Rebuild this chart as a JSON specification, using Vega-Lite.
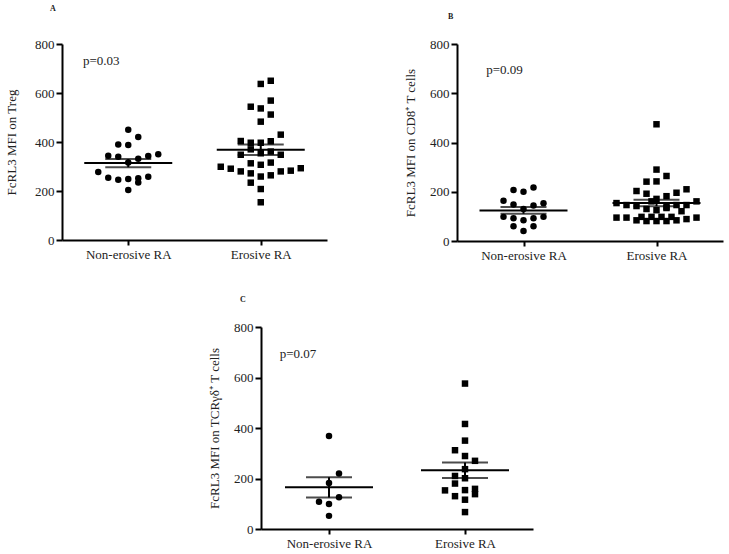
{
  "$schema": "https://vega.github.io/schema/vega-lite/v6.json",
  "padding": 5,
  "background": "white",
  "config": {
    "view": {"stroke": null},
    "font": "Liberation Serif",
    "axis": {"domainColor": "black", "domainWidth": 2, "tickColor": "black", "tickWidth": 2, "tickSize": 6, "labelFont": "Liberation Serif", "labelFontSize": 13, "labelColor": "#222", "titleFont": "Liberation Serif", "titleFontSize": 13, "titleFontWeight": "normal", "titleColor": "#222", "grid": false},
    "title": {"font": "Liberation Serif", "fontSize": 8, "fontWeight": "bold", "anchor": "start", "frame": "group", "color": "#222"}
  },
  "datasets": {
    "pts": [
      {"panel": "A", "group": "Non-erosive RA", "col": 0, "value": 450},
      {"panel": "A", "group": "Non-erosive RA", "col": 1, "value": 420},
      {"panel": "A", "group": "Non-erosive RA", "col": -1, "value": 390},
      {"panel": "A", "group": "Non-erosive RA", "col": 0, "value": 388},
      {"panel": "A", "group": "Non-erosive RA", "col": -2, "value": 344},
      {"panel": "A", "group": "Non-erosive RA", "col": -1, "value": 340},
      {"panel": "A", "group": "Non-erosive RA", "col": 1, "value": 332},
      {"panel": "A", "group": "Non-erosive RA", "col": 2, "value": 343},
      {"panel": "A", "group": "Non-erosive RA", "col": 3, "value": 350},
      {"panel": "A", "group": "Non-erosive RA", "col": 0, "value": 316},
      {"panel": "A", "group": "Non-erosive RA", "col": -3, "value": 278},
      {"panel": "A", "group": "Non-erosive RA", "col": -2, "value": 254},
      {"panel": "A", "group": "Non-erosive RA", "col": -1, "value": 246},
      {"panel": "A", "group": "Non-erosive RA", "col": 0, "value": 249},
      {"panel": "A", "group": "Non-erosive RA", "col": 1, "value": 252},
      {"panel": "A", "group": "Non-erosive RA", "col": 1, "value": 235},
      {"panel": "A", "group": "Non-erosive RA", "col": 2, "value": 258},
      {"panel": "A", "group": "Non-erosive RA", "col": 0, "value": 204},
      {"panel": "A", "group": "Erosive RA", "col": 0, "value": 637},
      {"panel": "A", "group": "Erosive RA", "col": 1, "value": 650},
      {"panel": "A", "group": "Erosive RA", "col": 1, "value": 569},
      {"panel": "A", "group": "Erosive RA", "col": -1, "value": 544},
      {"panel": "A", "group": "Erosive RA", "col": 0, "value": 537},
      {"panel": "A", "group": "Erosive RA", "col": 1, "value": 512},
      {"panel": "A", "group": "Erosive RA", "col": 0, "value": 483},
      {"panel": "A", "group": "Erosive RA", "col": 2, "value": 430},
      {"panel": "A", "group": "Erosive RA", "col": -2, "value": 404},
      {"panel": "A", "group": "Erosive RA", "col": -1, "value": 397},
      {"panel": "A", "group": "Erosive RA", "col": 0, "value": 397},
      {"panel": "A", "group": "Erosive RA", "col": 1, "value": 403},
      {"panel": "A", "group": "Erosive RA", "col": -1, "value": 370},
      {"panel": "A", "group": "Erosive RA", "col": -2, "value": 348},
      {"panel": "A", "group": "Erosive RA", "col": 0, "value": 354},
      {"panel": "A", "group": "Erosive RA", "col": 1, "value": 361},
      {"panel": "A", "group": "Erosive RA", "col": 2, "value": 348},
      {"panel": "A", "group": "Erosive RA", "col": -4, "value": 299},
      {"panel": "A", "group": "Erosive RA", "col": -3, "value": 291},
      {"panel": "A", "group": "Erosive RA", "col": -2, "value": 280},
      {"panel": "A", "group": "Erosive RA", "col": -1, "value": 313},
      {"panel": "A", "group": "Erosive RA", "col": 0, "value": 307},
      {"panel": "A", "group": "Erosive RA", "col": 1, "value": 316},
      {"panel": "A", "group": "Erosive RA", "col": -1, "value": 272},
      {"panel": "A", "group": "Erosive RA", "col": 0, "value": 259},
      {"panel": "A", "group": "Erosive RA", "col": 1, "value": 264},
      {"panel": "A", "group": "Erosive RA", "col": 2, "value": 280},
      {"panel": "A", "group": "Erosive RA", "col": 3, "value": 283},
      {"panel": "A", "group": "Erosive RA", "col": 4, "value": 293},
      {"panel": "A", "group": "Erosive RA", "col": -1, "value": 234},
      {"panel": "A", "group": "Erosive RA", "col": 0, "value": 208},
      {"panel": "A", "group": "Erosive RA", "col": 0, "value": 154},
      {"panel": "B", "group": "Non-erosive RA", "col": -1, "value": 207},
      {"panel": "B", "group": "Non-erosive RA", "col": 0, "value": 200},
      {"panel": "B", "group": "Non-erosive RA", "col": 1, "value": 217},
      {"panel": "B", "group": "Non-erosive RA", "col": -2, "value": 163},
      {"panel": "B", "group": "Non-erosive RA", "col": -1, "value": 148},
      {"panel": "B", "group": "Non-erosive RA", "col": 1, "value": 144},
      {"panel": "B", "group": "Non-erosive RA", "col": 2, "value": 153},
      {"panel": "B", "group": "Non-erosive RA", "col": 0, "value": 130},
      {"panel": "B", "group": "Non-erosive RA", "col": -2, "value": 98},
      {"panel": "B", "group": "Non-erosive RA", "col": -1, "value": 92},
      {"panel": "B", "group": "Non-erosive RA", "col": 0, "value": 84},
      {"panel": "B", "group": "Non-erosive RA", "col": 1, "value": 92},
      {"panel": "B", "group": "Non-erosive RA", "col": 2, "value": 98},
      {"panel": "B", "group": "Non-erosive RA", "col": -1, "value": 60},
      {"panel": "B", "group": "Non-erosive RA", "col": 1, "value": 60},
      {"panel": "B", "group": "Non-erosive RA", "col": 0, "value": 41},
      {"panel": "B", "group": "Erosive RA", "col": 0, "value": 474},
      {"panel": "B", "group": "Erosive RA", "col": 0, "value": 290},
      {"panel": "B", "group": "Erosive RA", "col": 1, "value": 264},
      {"panel": "B", "group": "Erosive RA", "col": -1, "value": 241},
      {"panel": "B", "group": "Erosive RA", "col": 0, "value": 242},
      {"panel": "B", "group": "Erosive RA", "col": -2, "value": 203},
      {"panel": "B", "group": "Erosive RA", "col": -1, "value": 192},
      {"panel": "B", "group": "Erosive RA", "col": 2, "value": 196},
      {"panel": "B", "group": "Erosive RA", "col": 3, "value": 210},
      {"panel": "B", "group": "Erosive RA", "col": 1, "value": 182},
      {"panel": "B", "group": "Erosive RA", "col": 0, "value": 171},
      {"panel": "B", "group": "Erosive RA", "col": -0.5, "value": 161},
      {"panel": "B", "group": "Erosive RA", "col": -4, "value": 154},
      {"panel": "B", "group": "Erosive RA", "col": -3, "value": 146},
      {"panel": "B", "group": "Erosive RA", "col": -2, "value": 142},
      {"panel": "B", "group": "Erosive RA", "col": 1, "value": 138},
      {"panel": "B", "group": "Erosive RA", "col": 2, "value": 146},
      {"panel": "B", "group": "Erosive RA", "col": 3, "value": 146},
      {"panel": "B", "group": "Erosive RA", "col": 4, "value": 161},
      {"panel": "B", "group": "Erosive RA", "col": -1, "value": 130},
      {"panel": "B", "group": "Erosive RA", "col": 0, "value": 125},
      {"panel": "B", "group": "Erosive RA", "col": 1, "value": 134},
      {"panel": "B", "group": "Erosive RA", "col": 2.5, "value": 121},
      {"panel": "B", "group": "Erosive RA", "col": -4, "value": 95},
      {"panel": "B", "group": "Erosive RA", "col": -3, "value": 95},
      {"panel": "B", "group": "Erosive RA", "col": -1.5, "value": 98},
      {"panel": "B", "group": "Erosive RA", "col": -0.5, "value": 98},
      {"panel": "B", "group": "Erosive RA", "col": 0.5, "value": 98},
      {"panel": "B", "group": "Erosive RA", "col": 1.5, "value": 98},
      {"panel": "B", "group": "Erosive RA", "col": 3, "value": 89},
      {"panel": "B", "group": "Erosive RA", "col": 4, "value": 95},
      {"panel": "B", "group": "Erosive RA", "col": -2, "value": 84},
      {"panel": "B", "group": "Erosive RA", "col": -1, "value": 81},
      {"panel": "B", "group": "Erosive RA", "col": 0, "value": 81},
      {"panel": "B", "group": "Erosive RA", "col": 1, "value": 81},
      {"panel": "B", "group": "Erosive RA", "col": 2, "value": 84},
      {"panel": "C", "group": "Non-erosive RA", "col": 0, "value": 368},
      {"panel": "C", "group": "Non-erosive RA", "col": 1, "value": 220},
      {"panel": "C", "group": "Non-erosive RA", "col": 0, "value": 182},
      {"panel": "C", "group": "Non-erosive RA", "col": 1, "value": 126},
      {"panel": "C", "group": "Non-erosive RA", "col": -1, "value": 108},
      {"panel": "C", "group": "Non-erosive RA", "col": 0, "value": 99},
      {"panel": "C", "group": "Non-erosive RA", "col": 0, "value": 52},
      {"panel": "C", "group": "Erosive RA", "col": 0, "value": 576},
      {"panel": "C", "group": "Erosive RA", "col": 0, "value": 416},
      {"panel": "C", "group": "Erosive RA", "col": 0, "value": 350},
      {"panel": "C", "group": "Erosive RA", "col": -1, "value": 312},
      {"panel": "C", "group": "Erosive RA", "col": 0, "value": 289},
      {"panel": "C", "group": "Erosive RA", "col": 1, "value": 270},
      {"panel": "C", "group": "Erosive RA", "col": 0, "value": 237},
      {"panel": "C", "group": "Erosive RA", "col": -1, "value": 210},
      {"panel": "C", "group": "Erosive RA", "col": 0, "value": 201},
      {"panel": "C", "group": "Erosive RA", "col": -1, "value": 180},
      {"panel": "C", "group": "Erosive RA", "col": 1, "value": 159},
      {"panel": "C", "group": "Erosive RA", "col": 1, "value": 138},
      {"panel": "C", "group": "Erosive RA", "col": -2, "value": 153},
      {"panel": "C", "group": "Erosive RA", "col": 0, "value": 154},
      {"panel": "C", "group": "Erosive RA", "col": -1, "value": 130},
      {"panel": "C", "group": "Erosive RA", "col": 0, "value": 116},
      {"panel": "C", "group": "Erosive RA", "col": 0, "value": 67}
    ],
    "notes": [
      {"panel": "A", "value": 730, "label": "p=0.03"},
      {"panel": "B", "value": 694, "label": "p=0.09"},
      {"panel": "C", "value": 695, "label": "p=0.07"}
    ],
    "blank": [{"k": 1}]
  },
  "spacing": 34,
  "vconcat": [
    {
      "spacing": 77,
      "hconcat": [
        {
          "width": 265, "height": 196,
          "title": {"text": "A", "dx": -12, "offset": 25},
          "encoding": {"x": {"field": "group", "type": "nominal", "sort": ["Non-erosive RA", "Erosive RA"], "scale": {"type": "point", "padding": 0.5}, "axis": {"title": null, "labelAngle": 0, "labelPadding": 3, "tickSize": 5}}},
          "layer": [
            {
              "data": {"name": "pts"}, "transform": [{"filter": "datum.panel === 'A'"}],
              "mark": {"type": "point", "filled": true, "color": "black", "opacity": 1, "size": 42},
              "encoding": {
                "y": {"field": "value", "type": "quantitative", "title": "FcRL3 MFI on Treg", "scale": {"domain": [0, 800], "nice": false}, "axis": {"values": [0, 200, 400, 600, 800], "titlePadding": 16}},
                "xOffset": {"field": "col", "type": "quantitative", "scale": {"domain": [-1, 1], "range": [-10, 10]}},
                "shape": {"field": "group", "type": "nominal", "scale": {"domain": ["Non-erosive RA", "Erosive RA"], "range": ["circle", "square"]}, "legend": null}
              }
            },
            {
              "data": {"name": "pts"}, "transform": [{"filter": "datum.panel === 'A'"}],
              "mark": {"type": "tick", "color": "black", "size": 88, "thickness": 2},
              "encoding": {"y": {"aggregate": "mean", "field": "value", "type": "quantitative", "title": "FcRL3 MFI on Treg"}}
            },
            {
              "data": {"name": "pts"}, "transform": [{"filter": "datum.panel === 'A'"}],
              "mark": {"type": "errorbar", "extent": "stderr", "color": "black", "thickness": 2, "ticks": {"size": 46}},
              "encoding": {"y": {"field": "value", "type": "quantitative", "title": "FcRL3 MFI on Treg"}}
            },
            {
              "data": {"name": "notes"}, "transform": [{"filter": "datum.panel === 'A'"}],
              "mark": {"type": "text", "font": "Liberation Serif", "fontSize": 13, "color": "#222", "dx": -27, "align": "center", "baseline": "middle"},
              "encoding": {"x": {"datum": "Non-erosive RA"}, "y": {"field": "value", "type": "quantitative", "title": "FcRL3 MFI on Treg"}, "text": {"field": "label"}}
            }
          ]
        },
        {
          "width": 266, "height": 197,
          "title": {"text": "B", "dx": -9, "offset": 17},
          "encoding": {"x": {"field": "group", "type": "nominal", "sort": ["Non-erosive RA", "Erosive RA"], "scale": {"type": "point", "padding": 0.5}, "axis": {"title": null, "labelAngle": 0, "labelPadding": 3, "tickSize": 5}}},
          "layer": [
            {
              "data": {"name": "pts"}, "transform": [{"filter": "datum.panel === 'B'"}],
              "mark": {"type": "point", "filled": true, "color": "black", "opacity": 1, "size": 42},
              "encoding": {
                "y": {"field": "value", "type": "quantitative", "title": "FcRL3 MFI on CD8⁺ T cells", "scale": {"domain": [0, 800], "nice": false}, "axis": {"values": [0, 200, 400, 600, 800], "titlePadding": 12}},
                "xOffset": {"field": "col", "type": "quantitative", "scale": {"domain": [-1, 1], "range": [-10, 10]}},
                "shape": {"field": "group", "type": "nominal", "scale": {"domain": ["Non-erosive RA", "Erosive RA"], "range": ["circle", "square"]}, "legend": null}
              }
            },
            {
              "data": {"name": "pts"}, "transform": [{"filter": "datum.panel === 'B'"}],
              "mark": {"type": "tick", "color": "black", "size": 88, "thickness": 2},
              "encoding": {"y": {"aggregate": "mean", "field": "value", "type": "quantitative", "title": "FcRL3 MFI on CD8⁺ T cells"}}
            },
            {
              "data": {"name": "pts"}, "transform": [{"filter": "datum.panel === 'B'"}],
              "mark": {"type": "errorbar", "extent": "stderr", "color": "black", "thickness": 2, "ticks": {"size": 46}},
              "encoding": {"y": {"field": "value", "type": "quantitative", "title": "FcRL3 MFI on CD8⁺ T cells"}}
            },
            {
              "data": {"name": "notes"}, "transform": [{"filter": "datum.panel === 'B'"}],
              "mark": {"type": "text", "font": "Liberation Serif", "fontSize": 13, "color": "#222", "dx": -19, "align": "center", "baseline": "middle"},
              "encoding": {"x": {"datum": "Non-erosive RA"}, "y": {"field": "value", "type": "quantitative", "title": "FcRL3 MFI on CD8⁺ T cells"}, "text": {"field": "label"}}
            }
          ]
        }
      ]
    },
    {
      "spacing": 14,
      "hconcat": [
        {
          "width": 132, "height": 10,
          "data": {"name": "blank"},
          "mark": {"type": "point", "opacity": 0},
          "encoding": {}
        },
        {
          "width": 272, "height": 202,
          "title": {"text": "C", "dx": -21, "offset": 17},
          "encoding": {"x": {"field": "group", "type": "nominal", "sort": ["Non-erosive RA", "Erosive RA"], "scale": {"type": "point", "padding": 0.5}, "axis": {"title": null, "labelAngle": 0, "labelPadding": 3, "tickSize": 5}}},
          "layer": [
            {
              "data": {"name": "pts"}, "transform": [{"filter": "datum.panel === 'C'"}],
              "mark": {"type": "point", "filled": true, "color": "black", "opacity": 1, "size": 42},
              "encoding": {
                "y": {"field": "value", "type": "quantitative", "title": "FcRL3 MFI on TCRγδ⁺ T cells", "scale": {"domain": [0, 800], "nice": false}, "axis": {"values": [0, 200, 400, 600, 800], "titlePadding": 12}},
                "xOffset": {"field": "col", "type": "quantitative", "scale": {"domain": [-1, 1], "range": [-10, 10]}},
                "shape": {"field": "group", "type": "nominal", "scale": {"domain": ["Non-erosive RA", "Erosive RA"], "range": ["circle", "square"]}, "legend": null}
              }
            },
            {
              "data": {"name": "pts"}, "transform": [{"filter": "datum.panel === 'C'"}],
              "mark": {"type": "tick", "color": "black", "size": 88, "thickness": 2},
              "encoding": {"y": {"aggregate": "mean", "field": "value", "type": "quantitative", "title": "FcRL3 MFI on TCRγδ⁺ T cells"}}
            },
            {
              "data": {"name": "pts"}, "transform": [{"filter": "datum.panel === 'C'"}],
              "mark": {"type": "errorbar", "extent": "stderr", "color": "black", "thickness": 2, "ticks": {"size": 46}},
              "encoding": {"y": {"field": "value", "type": "quantitative", "title": "FcRL3 MFI on TCRγδ⁺ T cells"}}
            },
            {
              "data": {"name": "notes"}, "transform": [{"filter": "datum.panel === 'C'"}],
              "mark": {"type": "text", "font": "Liberation Serif", "fontSize": 13, "color": "#222", "dx": -31, "align": "center", "baseline": "middle"},
              "encoding": {"x": {"datum": "Non-erosive RA"}, "y": {"field": "value", "type": "quantitative", "title": "FcRL3 MFI on TCRγδ⁺ T cells"}, "text": {"field": "label"}}
            }
          ]
        }
      ]
    }
  ]
}
